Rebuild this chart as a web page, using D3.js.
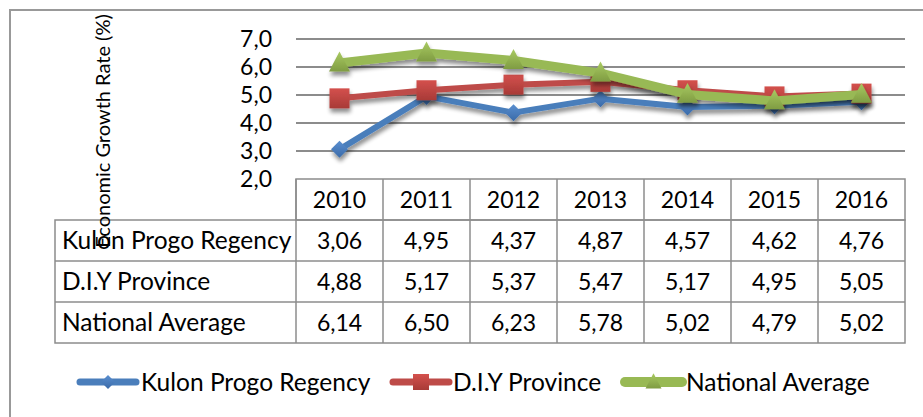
<!DOCTYPE html>
<html><head><meta charset="utf-8">
<script src="https://cdn.jsdelivr.net/npm/d3@7/dist/d3.min.js"></script>
<style>
html,body{margin:0;padding:0;background:#fff;}
svg{display:block;font-family:Lato, "Open Sans", sans-serif;}
</style></head>
<body>
<svg id="chart" width="923" height="417"></svg>
<script>
const years = ["2010","2011","2012","2013","2014","2015","2016"];
const kulonProgo = [3.06,4.95,4.37,4.87,4.57,4.62,4.76];
const diyProvince = [4.88,5.17,5.37,5.47,5.17,4.95,5.05];
const nationalAvg = [6.14,6.50,6.23,5.78,5.02,4.79,5.02];
const seriesNames = ["Kulon Progo Regency","D.I.Y Province","National Average"];
const yTicks = [2,3,4,5,6,7];
const yTitle = "Economic Growth Rate (%)";

const svg = d3.select("#chart");
const FS = 23;      // numbers
const FL = 24.5;    // word labels
const fmt = v => d3.format(".1f")(v).replace(".", ",");
const fmt2 = v => d3.format(".2f")(v).replace(".", ",");

const x = d3.scaleBand().domain(years).range([296, 905]);
const y = d3.scaleLinear().domain([2, 7]).range([179, 39]);
const cx = d => x(d) + x.bandwidth() / 2;

// defs
const defs = svg.append("defs");
const sh = defs.append("filter").attr("id","shadow").attr("x","-50%").attr("y","-50%").attr("width","200%").attr("height","200%");
sh.append("feGaussianBlur").attr("in","SourceAlpha").attr("stdDeviation",2.2).attr("result","b");
sh.append("feOffset").attr("in","b").attr("dx",1).attr("dy",4).attr("result","o");
sh.append("feComponentTransfer").attr("in","o").attr("result","o2").append("feFuncA").attr("type","linear").attr("slope",0.45);
const m = sh.append("feMerge"); m.append("feMergeNode").attr("in","o2"); m.append("feMergeNode").attr("in","SourceGraphic");

const colors = [
  {line:"#4a7ebb", top:"#5a8fd0", bot:"#3a6aa8"},
  {line:"#be4b48", top:"#d4514d", bot:"#a83a37"},
  {line:"#98b954", top:"#a9ca62", bot:"#7f9c42"}
];
colors.forEach((c,i)=>{
  const g = defs.append("linearGradient").attr("id","grad"+i).attr("x1",0).attr("y1",0).attr("x2",0).attr("y2",1);
  g.append("stop").attr("offset","0%").attr("stop-color",c.top);
  g.append("stop").attr("offset","100%").attr("stop-color",c.bot);
});

// outer frame
const fp = d3.path(); fp.moveTo(10,417); fp.lineTo(10,10); fp.lineTo(923,10);
svg.append("path").attr("d", fp.toString()).attr("fill","none").attr("stroke","#999").attr("stroke-width",2);

// gridlines
svg.append("g").selectAll("line").data(yTicks.filter(t=>t>2)).join("line")
  .attr("x1",296).attr("x2",905).attr("y1",d=>y(d)).attr("y2",d=>y(d))
  .attr("stroke","#8c8c8c").attr("stroke-width",2);

// y tick labels
svg.append("g").selectAll("text").data(yTicks).join("text")
  .attr("x",272).attr("y",d=>y(d)).attr("dy","0.36em").attr("text-anchor","end")
  .attr("font-size",FS).attr("fill","#000").text(fmt);

// table
const rowTop = [220,261,302,343];
const tbl = svg.append("g").attr("fill","none").attr("stroke","#8c8c8c").attr("stroke-width",1.5);
tbl.append("rect").attr("x",296).attr("y",179).attr("width",609).attr("height",41);
tbl.append("rect").attr("x",55).attr("y",220).attr("width",850).attr("height",123);
[261,302].forEach(yy=>tbl.append("line").attr("x1",55).attr("x2",905).attr("y1",yy).attr("y2",yy));
years.forEach(d=>tbl.append("line").attr("x1",x(d)).attr("x2",x(d)).attr("y1",179).attr("y2",343));

svg.append("g").selectAll("text").data(years).join("text")
  .attr("x",cx).attr("y",199.5).attr("dy","0.36em").attr("text-anchor","middle")
  .attr("font-size",FS).text(d=>d);

const allSeries = [kulonProgo, diyProvince, nationalAvg];
allSeries.forEach((vals,i)=>{
  const yc = (rowTop[i]+rowTop[i+1])/2;
  svg.append("text").attr("x",62).attr("y",yc).attr("dy","0.36em").attr("font-size",FL).text(seriesNames[i]);
  svg.append("g").selectAll("text").data(vals).join("text")
    .attr("x",(d,j)=>cx(years[j])).attr("y",yc).attr("dy","0.36em").attr("text-anchor","middle")
    .attr("font-size",FS).text(fmt2);
});

// y title
svg.append("text").attr("transform","translate(110,131) rotate(-90)")
  .attr("text-anchor","middle").attr("font-size",20).attr("fill","#000").text(yTitle);

// markers
const widths = [6,6,9];
function marker(g, i, px, py, s) {
  if (i===0) {
    g.append("path").attr("d",`M${px},${py-s}L${px+s},${py}L${px},${py+s}L${px-s},${py}Z`)
      .attr("fill","url(#grad0)");
  } else if (i===1) {
    g.append("rect").attr("x",px-s).attr("y",py-s).attr("width",2*s).attr("height",2*s)
      .attr("fill","url(#grad1)");
  } else {
    g.append("path").attr("d",`M${px},${py-s*1.1}L${px+s},${py+s*0.8}L${px-s},${py+s*0.8}Z`)
      .attr("fill","url(#grad2)");
  }
}
const line = d3.line().x((d,j)=>cx(years[j])).y(d=>y(d));
const sizes = [8.5,10,10.5];
allSeries.forEach((vals,i)=>{
  const g = svg.append("g").attr("filter","url(#shadow)");
  g.append("path").datum(vals).attr("d",line).attr("fill","none")
    .attr("stroke",colors[i].line).attr("stroke-width",widths[i]).attr("stroke-linejoin","round");
  vals.forEach((v,j)=>marker(g,i,cx(years[j]),y(v),sizes[i]));
});

// legend
const legendX = [[80,136,141],[393,449,453],[625,682,686]];
const ly = 382;
allSeries.forEach((vals,i)=>{
  const [a,b,t] = legendX[i];
  const g = svg.append("g");
  g.append("line").attr("x1",a).attr("x2",b).attr("y1",ly).attr("y2",ly)
    .attr("stroke",colors[i].line).attr("stroke-width",i===2?10:7).attr("stroke-linecap","round");
  marker(g,i,(a+b)/2,ly,[7,8,8][i]);
  g.append("text").attr("x",t).attr("y",ly).attr("dy","0.36em").attr("font-size",FL).text(seriesNames[i]);
});
</script>
</body></html>
